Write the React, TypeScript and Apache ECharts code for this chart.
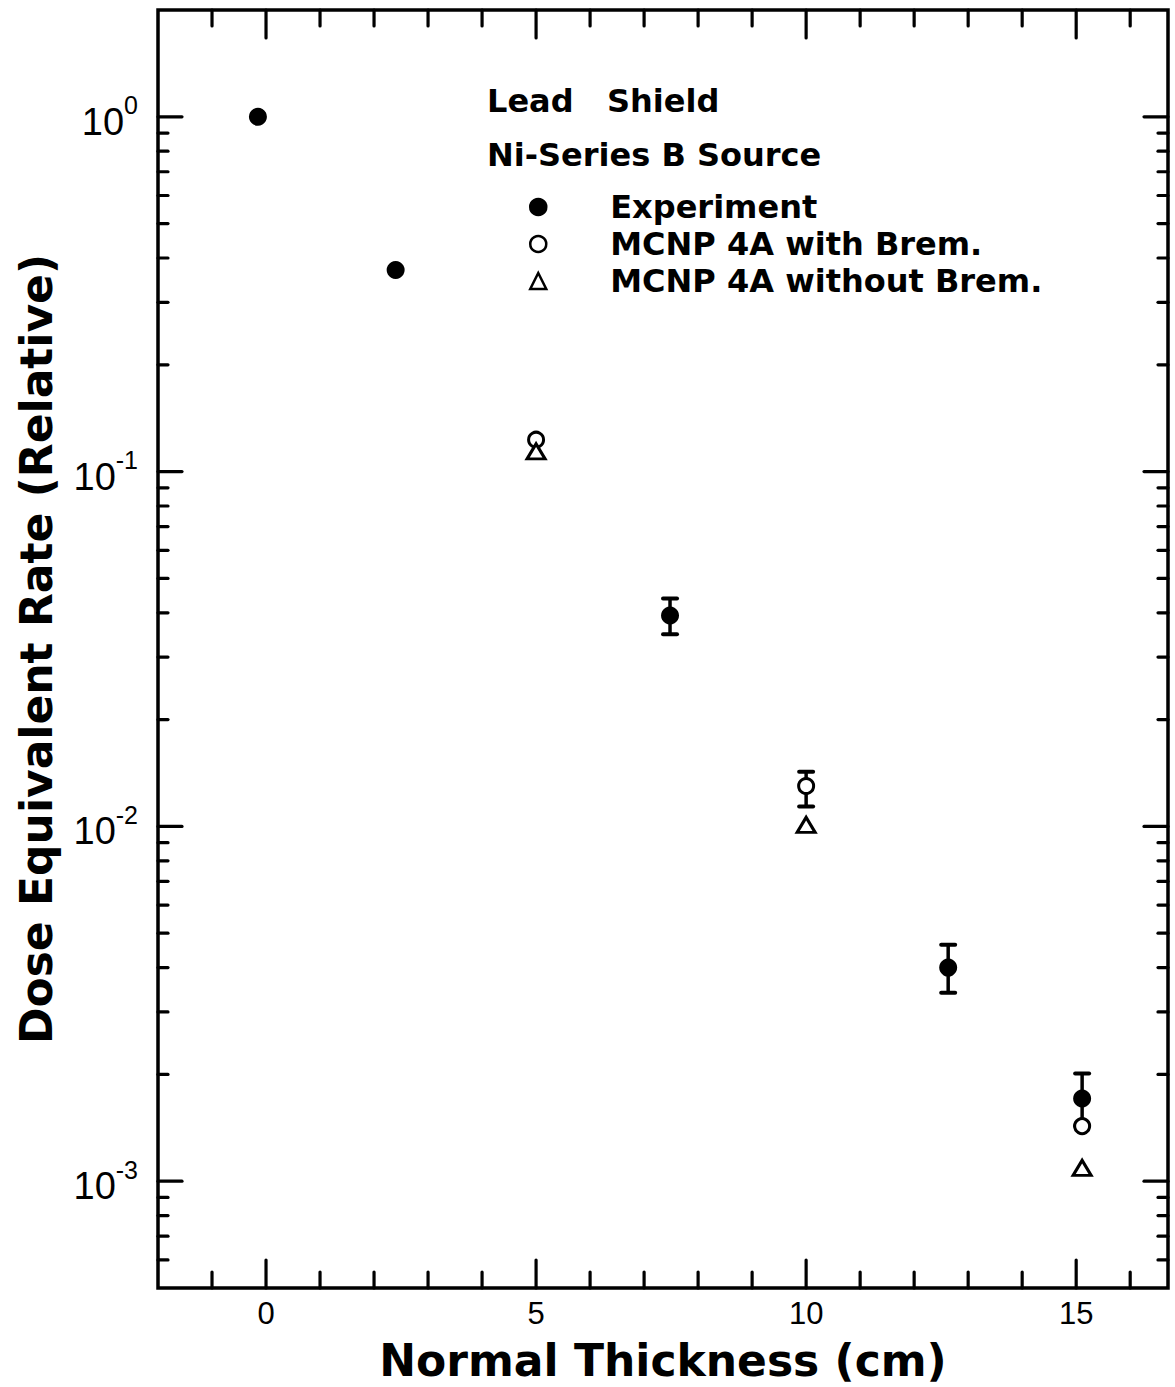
import React, { useEffect, useRef } from "react";
import * as echarts from "echarts";

// Axis extents
const X_MIN = -2;
const X_MAX = 16.7;
const Y_MIN = 5e-4;
const Y_MAX = 2;

// Data: [thickness (cm), relative dose equivalent rate]
const experiment: number[][] = [
  [-0.15, 1.0],
  [2.4, 0.37],
  [7.48, 0.0393],
  [12.63, 0.004],
  [15.11, 0.00171],
];
// [x, low, high]
const experimentErr: number[][] = [
  [7.48, 0.0348, 0.0439],
  [12.63, 0.0034, 0.00464],
  [15.11, 0.00143, 0.00201],
];
const mcnpBrem: number[][] = [
  [5.0, 0.123],
  [10.0, 0.013],
  [15.11, 0.00143],
];
const mcnpBremErr: number[][] = [[10.0, 0.01138, 0.01426]];
const mcnpNoBrem: number[][] = [
  [5.0, 0.114],
  [10.0, 0.0101],
  [15.11, 0.00109],
];

const seriesNames = ["Experiment", "MCNP 4A with Brem.", "MCNP 4A without Brem."];
const titleLines = ["Lead   Shield", "Ni-Series B Source"];
const xAxisTitle = "Normal Thickness (cm)";
const yAxisTitle = "Dose Equivalent Rate (Relative)";

// Tick positions
const xTickValues = [-1, 0, 1, 2, 3, 4, 5, 6, 7, 8, 9, 10, 11, 12, 13, 14, 15, 16];
const xLabelValues = [0, 5, 10, 15];
const yMajorTicks = [1e-3, 1e-2, 1e-1, 1];
const yMinorTicks = [
  6e-4, 7e-4, 8e-4, 9e-4,
  2e-3, 3e-3, 4e-3, 5e-3, 6e-3, 7e-3, 8e-3, 9e-3,
  2e-2, 3e-2, 4e-2, 5e-2, 6e-2, 7e-2, 8e-2, 9e-2,
  2e-1, 3e-1, 4e-1, 5e-1, 6e-1, 7e-1, 8e-1, 9e-1,
];

const BOLD_FONT = "DejaVu Sans";
const NUM_FONT = "Liberation Sans";

export default function App() {
  const ref = useRef<HTMLDivElement>(null);

  useEffect(() => {
    if (!ref.current) return;
    const chart = echarts.init(ref.current, undefined, { renderer: "svg" });

    const xTickData = xTickValues.map((v) => [v, Y_MIN, xLabelValues.includes(v) ? 28 : 16]);
    const yTickData = [
      ...yMajorTicks.map((v) => [X_MIN, v, 24]),
      ...yMinorTicks.map((v) => [X_MIN, v, 10]),
    ];

    const lineStyle = { stroke: "#000", lineWidth: 3.2, lineCap: "round" };

    const errRender = (params: any, api: any) => {
      const x = api.value(0);
      const lo = api.coord([x, api.value(1)]);
      const hi = api.coord([x, api.value(2)]);
      const cap = 7;
      return {
        type: "group",
        children: [
          { type: "line", shape: { x1: lo[0], y1: lo[1], x2: hi[0], y2: hi[1] }, style: { stroke: "#000", lineWidth: 3.5 } },
          { type: "line", shape: { x1: hi[0] - cap, y1: hi[1], x2: hi[0] + cap, y2: hi[1] }, style: { stroke: "#000", lineWidth: 4, lineCap: "round" } },
          { type: "line", shape: { x1: lo[0] - cap, y1: lo[1], x2: lo[0] + cap, y2: lo[1] }, style: { stroke: "#000", lineWidth: 4, lineCap: "round" } },
        ],
      };
    };

    const openStyle = { color: "#fff", borderColor: "#000", borderWidth: 3, opacity: 1 };
    const textBold = { fontFamily: BOLD_FONT, fontWeight: "bold", color: "#000" };

    chart.setOption({
      animation: false,
      backgroundColor: "#fff",
      title: [
        { text: titleLines[0], left: 482, top: 80, padding: 5, textStyle: { ...textBold, fontSize: 32 } },
        { text: titleLines[1], left: 482, top: 134, padding: 5, textStyle: { ...textBold, fontSize: 32 } },
      ],
      legend: {
        data: seriesNames,
        orient: "vertical",
        left: 524,
        top: 186,
        padding: 5,
        itemWidth: 16,
        itemHeight: 16,
        itemGap: 5,
        selectedMode: false,
        symbolKeepAspect: true,
        itemStyle: { borderWidth: 2.5, borderColor: "#000" },
        textStyle: { ...textBold, fontSize: 32, padding: [0, 0, 0, 59] },
      },
      grid: {
        left: 158,
        top: 10,
        right: 7,
        bottom: 94,
        show: true,
        borderColor: "#000",
        borderWidth: 3.5,
        backgroundColor: "transparent",
      },
      xAxis: {
        type: "value",
        min: X_MIN,
        max: X_MAX,
        interval: 1,
        axisLine: { show: false },
        axisTick: { show: false },
        splitLine: { show: false },
        axisLabel: {
          formatter: (v: number) => (xLabelValues.includes(v) ? String(v) : ""),
          fontSize: 31,
          fontFamily: "Liberation Sans Narrow, Liberation Sans",
          color: "#000",
          margin: 10,
        },
        name: xAxisTitle,
        nameLocation: "middle",
        nameGap: 50,
        nameTextStyle: { ...textBold, fontSize: 44 },
      },
      yAxis: {
        type: "log",
        logBase: 10,
        min: Y_MIN,
        max: Y_MAX,
        axisLine: { show: false },
        axisTick: { show: false },
        splitLine: { show: false },
        axisLabel: {
          margin: 20,
          formatter: (v: number) => {
            const l = Math.log10(v);
            const e = Math.round(l);
            if (Math.abs(l - e) > 1e-6) return "";
            return `{b|10}{s|${e}}`;
          },
          rich: {
            b: { fontSize: 38, fontFamily: NUM_FONT, color: "#000", lineHeight: 48, verticalAlign: "bottom" },
            s: { fontSize: 25, fontFamily: NUM_FONT, color: "#000", lineHeight: 25, verticalAlign: "top" },
          },
        },
        name: yAxisTitle,
        nameLocation: "middle",
        nameGap: 100,
        nameTextStyle: { ...textBold, fontSize: 44 },
      },
      series: [
        {
          type: "custom",
          name: "xticks",
          silent: true,
          clip: false,
          encode: { x: 0, y: 1 },
          data: xTickData,
          z: 1,
          renderItem: (params: any, api: any) => {
            const v = api.value(0);
            const len = api.value(2);
            const b = api.coord([v, Y_MIN]);
            const t = api.coord([v, Y_MAX]);
            return {
              type: "group",
              children: [
                { type: "line", shape: { x1: b[0], y1: b[1], x2: b[0], y2: b[1] - len }, style: lineStyle },
                { type: "line", shape: { x1: t[0], y1: t[1], x2: t[0], y2: t[1] + len }, style: lineStyle },
              ],
            };
          },
        },
        {
          type: "custom",
          name: "yticks",
          silent: true,
          clip: false,
          encode: { x: 0, y: 1 },
          data: yTickData,
          z: 1,
          renderItem: (params: any, api: any) => {
            const v = api.value(1);
            const len = api.value(2);
            const l = api.coord([X_MIN, v]);
            const r = api.coord([X_MAX, v]);
            return {
              type: "group",
              children: [
                { type: "line", shape: { x1: l[0], y1: l[1], x2: l[0] + len, y2: l[1] }, style: lineStyle },
                { type: "line", shape: { x1: r[0], y1: r[1], x2: r[0] - len, y2: r[1] }, style: lineStyle },
              ],
            };
          },
        },
        {
          type: "custom",
          name: "expErr",
          silent: true,
          encode: { x: 0, y: [1, 2] },
          data: experimentErr,
          z: 2,
          renderItem: errRender,
        },
        {
          type: "custom",
          name: "bremErr",
          silent: true,
          encode: { x: 0, y: [1, 2] },
          data: mcnpBremErr,
          z: 2,
          renderItem: errRender,
        },
        {
          type: "scatter",
          name: seriesNames[0],
          symbol: "circle",
          symbolSize: 18,
          itemStyle: { color: "#000", opacity: 1 },
          data: experiment,
          z: 3,
        },
        {
          type: "scatter",
          name: seriesNames[1],
          symbol: "circle",
          symbolSize: 15,
          itemStyle: openStyle,
          data: mcnpBrem,
          z: 4,
        },
        {
          type: "scatter",
          name: seriesNames[2],
          symbol: "triangle",
          symbolSize: [18, 15],
          itemStyle: openStyle,
          data: mcnpNoBrem,
          z: 4,
        },
      ],
    });

    return () => chart.dispose();
  }, []);

  return (
    <div
      ref={ref}
      style={{ position: "absolute", left: 0, top: 0, width: 1175, height: 1387 }}
    />
  );
}
